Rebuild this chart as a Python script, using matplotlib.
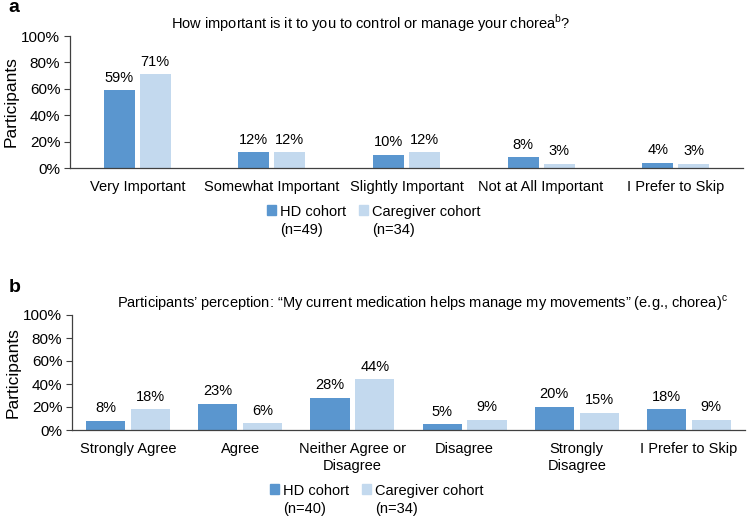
import matplotlib
matplotlib.use("Agg")
import matplotlib.pyplot as plt
from matplotlib.patches import Patch
import numpy as np

plt.rcParams['font.family'] = ['Liberation Sans', 'DejaVu Sans']
plt.rcParams['mathtext.fontset'] = 'custom'
plt.rcParams['mathtext.rm'] = 'Liberation Sans'

# panel a data
cats_a = ["Very Important", "Somewhat Important", "Slightly Important",
          "Not at All Important", "I Prefer to Skip"]
hd_a = [59, 12, 10, 8, 4]
cg_a = [71, 12, 12, 3, 3]

# panel b data
cats_b = ["Strongly Agree", "Agree", "Neither Agree or\nDisagree", "Disagree",
          "Strongly\nDisagree", "I Prefer to Skip"]
hd_b = [8, 23, 28, 5, 20, 18]
cg_b = [18, 6, 44, 9, 15, 9]

yticks = [0, 20, 40, 60, 80, 100]
ytick_labels = ["0%", "20%", "40%", "60%", "80%", "100%"]

hd_color = "#5A96CF"
cg_color = "#C3D9EE"

W, H = 747, 518
fig = plt.figure(figsize=(W / 100, H / 100), dpi=100)


def draw_panel(ax, cats, hd, cg, width, gap, n_hd, n_cg, leg_xy, pad):
    x = np.arange(len(cats))
    off = width / 2 + gap / 2
    b1 = ax.bar(x - off, hd, width, color=hd_color)
    b2 = ax.bar(x + off, cg, width, color=cg_color)
    for bars, vals in ((b1, hd), (b2, cg)):
        for r, v in zip(bars, vals):
            ax.annotate(f"{v}%", (r.get_x() + r.get_width() / 2, v),
                        xytext=(0, 4), textcoords="offset points",
                        ha="center", va="bottom", fontsize=10.5)
    ax.set_xlim(-0.5, len(cats) - 0.5)
    ax.set_ylim(0, 100)
    ax.set_yticks(yticks)
    ax.set_yticklabels(ytick_labels, fontsize=11)
    ax.set_xticks(x)
    ax.set_xticklabels(cats, fontsize=10.5, linespacing=1.25)
    ax.tick_params(axis="x", length=0, pad=pad)
    ax.tick_params(axis="y", length=4, width=0.8, color="#404040", pad=3)
    for s in ("top", "right"):
        ax.spines[s].set_visible(False)
    for s in ("left", "bottom"):
        ax.spines[s].set_color("#404040")
        ax.spines[s].set_linewidth(0.9)
    ax.set_ylabel("Participants", fontsize=12.5)
    ax.yaxis.set_label_coords(-0.077, 0.5)
    handles = [Patch(color=hd_color), Patch(color=cg_color)]
    labels = [f"HD cohort\n(n={n_hd})", f"Caregiver cohort\n(n={n_cg})"]
    leg = fig.legend(handles, labels, loc="center", bbox_to_anchor=leg_xy, ncol=2,
                     frameon=False, fontsize=10.5, handlelength=0.6, handleheight=0.6,
                     handletextpad=0.3, columnspacing=0.9)
    for t in leg.get_texts():
        t.set_linespacing(1.3)
    # put the square marker level with the first line of each label
    for col in leg._legend_handle_box.get_children():
        for item in col.get_children():
            item.align = "top"


ax_a = fig.add_axes([70 / W, 1 - 168 / H, 673 / W, 132 / H])
draw_panel(ax_a, cats_a, hd_a, cg_a, 0.23, 0.037, 49, 34,
           (374 / W, 1 - 221 / H), 9)

ax_b = fig.add_axes([72 / W, 1 - 430 / H, 673 / W, 115 / H])
draw_panel(ax_b, cats_b, hd_b, cg_b, 0.35, 0.05, 40, 34,
           (377 / W, 1 - 500 / H), 9)

fig.text(371 / W, 1 - 23 / H,
         r"How important is it to you to control or manage your chorea$^{\mathrm{b}}$?",
         ha="center", va="center", fontsize=10.5)
fig.text(422 / W, 1 - 303 / H,
         "Participants\u2019 perception: \u201cMy current medication helps manage my "
         "movements\u201d (e.g., chorea)$^{\\mathrm{c}}$",
         ha="center", va="center", fontsize=10.5)

fig.text(8 / W, 1 - 8 / H, "a", fontsize=14, fontweight="bold", va="center")
fig.text(9 / W, 1 - 288 / H, "b", fontsize=14, fontweight="bold", va="center")

fig.savefig("out.png", dpi=100)
